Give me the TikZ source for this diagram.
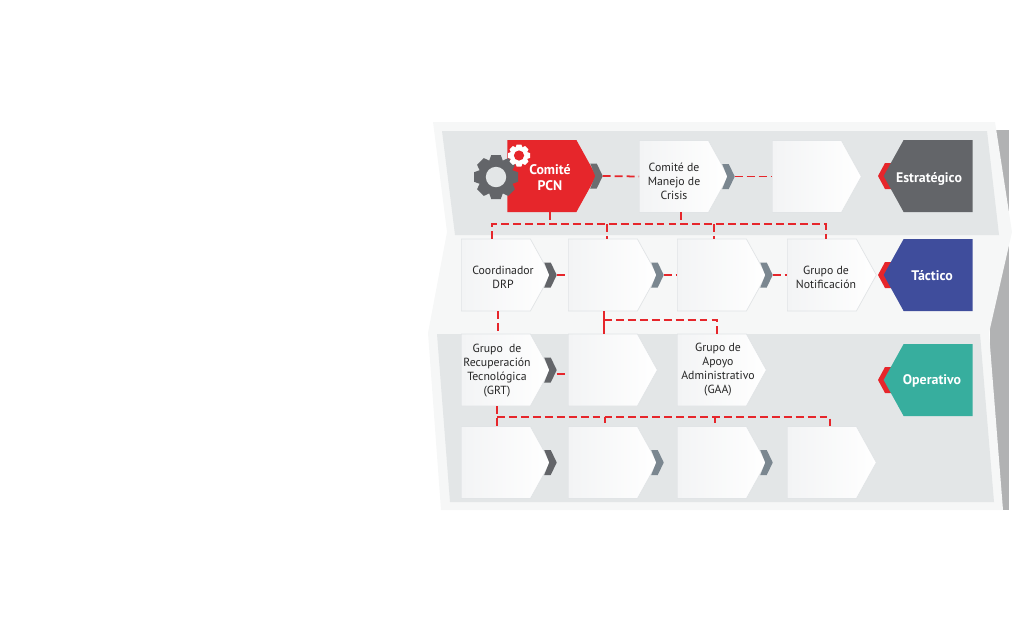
\documentclass[tikz,border=0pt]{standalone}
\usepackage{fontspec}
\setmainfont{PT Sans}
\usetikzlibrary{shapes.symbols,calc}
\definecolor{bandlight}{HTML}{F6F7F7}
\definecolor{panelgrey}{HTML}{E3E6E7}
\definecolor{shadowgrey}{HTML}{B1B2B3}
\definecolor{cardedge}{HTML}{E1E4E6}
\definecolor{cardleft}{HTML}{F3F4F5}
\definecolor{pcnred}{HTML}{E6262B}
\definecolor{darkgrey}{HTML}{636569}
\definecolor{tacblue}{HTML}{3F4D9C}
\definecolor{opgreen}{HTML}{37AE9E}
\definecolor{chevlight}{HTML}{7B8790}
\tikzset{
    signalbase/.style={shape=signal, signal pointer angle=122, signal from=nowhere, inner sep=0pt,
        minimum width=1.78cm, minimum height=1.44cm},
    card/.style={signalbase, signal to=east, anchor=west, draw=cardedge, line width=0.4pt,
        left color=cardleft, right color=white},
    pcnbox/.style={signalbase, signal to=east, anchor=west, fill=pcnred},
    levelbox/.style={signalbase, signal to=west, anchor=east},
    cardtext/.style={align=center, inner sep=0pt, text=black!85, font=\fontsize{6.7}{8}\selectfont},
    boldtext/.style={align=center, inner sep=0pt, text=white, font=\fontsize{7.9}{9}\selectfont\bfseries},
    link/.style={draw=pcnred, line width=1pt, dash pattern=on 4.5pt off 2.3pt},
    linksolid/.style={draw=pcnred, line width=1pt},
}
% chevron that sticks out of a card, measured from the tip of the card
\newcommand{\cardtab}[2]{\fill[#2] ($(#1.east)+(-6.5,-12.5)$) -- ++(6.5,0) -- ($(#1.east)+(6,0)$)
    -- ($(#1.east)+(0,12.5)$) -- ++(-6.5,0) -- ($(#1.east)+(-1.5,0)$) -- cycle;}
% red chevron behind a level box
\newcommand{\leveltab}[1]{\fill[pcnred] (#1) -- ++(7,-13) -- ++(14,0) -- ++(0,26) -- ++(-14,0) -- cycle;}
\newcommand{\cardgear}[5]{\foreach \a in {0,45,...,315}
    {\fill[#5, shift={(#1)}, rotate=\a] (-#3*0.44,#3*0.85) -- (-#3*0.28,#2) -- (#3*0.28,#2) -- (#3*0.44,#3*0.85) -- cycle;}
    \fill[#5] (#1) circle[radius=#3];
    \fill[#4] (#1) circle[radius=#3*0.6];}
\begin{document}
\begin{tikzpicture}[x=0.02cm, y=-0.02cm]
    \useasboundingbox (0,0) rectangle (1024,620);

    % bands behind the rows
    \fill[shadowgrey] (990,130) -- (1009,130) -- (1009,510) -- (990,510) -- cycle;
    \fill[bandlight] (433,122) -- (995,122) -- (1012,232) -- (989,333) -- (1003,510) -- (441,510) -- (428,333) -- (447,232) -- cycle;
    \fill[panelgrey] (442,131) -- (987,131) -- (999,235) -- (455,235) -- cycle;
    \fill[panelgrey] (437,334) -- (980,334) -- (994,502) -- (450,502) -- cycle;

    % row 1
    \node[pcnbox] (pcn) at (507,176) {};
    \node[card] (manejo) at (639,176.5) {};
    \node[card] (tercero) at (772,176.5) {};

    % row 2
    \node[card] (coord) at (461,275) {};
    \node[card] (tacdos) at (568,275) {};
    \node[card] (tactres) at (677,275) {};
    \node[card] (notif) at (787,275) {};

    % row 3
    \node[card] (grt) at (461,370) {};
    \node[card] (opdos) at (568,370) {};
    \node[card] (gaa) at (677,370) {};

    % row 4
    \node[card] (baja) at (461,462.5) {};
    \node[card] (bajb) at (568,462.5) {};
    \node[card] (bajc) at (677,462.5) {};
    \node[card] (bajd) at (787,462.5) {};

    % levels on the right
    \leveltab{878,176}
    \leveltab{878,275}
    \leveltab{878,380}
    \node[levelbox, fill=darkgrey] (estrategico) at (973,176) {};
    \node[levelbox, fill=tacblue] (tactico) at (973,275) {};
    \node[levelbox, fill=opgreen] (operativo) at (973,380) {};
    \node[boldtext] (estrategicotxt) at (929,179) {Estratégico};
    \node[boldtext] (tacticotxt) at (932,276) {Táctico};
    \node[boldtext] (operativotxt) at (932,381) {Operativo};

    % chevrons
    \cardtab{pcn}{darkgrey!95}
    \cardtab{manejo}{chevlight}
    \cardtab{coord}{darkgrey}
    \cardtab{tacdos}{chevlight}
    \cardtab{tactres}{chevlight}
    \cardtab{grt}{darkgrey}
    \cardtab{baja}{darkgrey}
    \cardtab{bajb}{chevlight}
    \cardtab{bajc}{chevlight}

    % texts of the cards
    \node[cardtext] (manejotxt) at (674,181) {Comité de\\Manejo de\\Crisis};
    \node[cardtext] (coordtxt) at (503,277) {Coordinador\\DRP};
    \node[cardtext] (notiftxt) at (826,277) {Grupo de\\Notificación};
    \node[cardtext] (grttxt) at (497,371) {Grupo \ de\\Recuperación\\Tecnológica\\(GRT)};
    \node[cardtext] (gaatxt) at (718,370) {Grupo de\\Apoyo\\Administrativo\\(GAA)};
    \node[boldtext] (pcntxt) at (550,177.5) {Comité\\PCN};

    % gears
    \cardgear{496,177}{22}{17}{panelgrey}{darkgrey}
    \cardgear{519,155.5}{11}{8.5}{pcnred}{white}

    % row 1 connectors
    \draw[link] ($(pcn.east)+(6,0)$) -- (manejo.west);
    \draw[link] ($(manejo.east)+(6,0)$) -- (tercero.west);
    \coordinate (busleft) at (492,224);
    \coordinate (busright) at (826,224);
    \coordinate (busb) at (607,224);
    \coordinate (busc) at (714,224);
    \draw[link] (busleft |- coord.north) -- (busleft) -- (busright) -- (busright |- notif.north);
    \draw[link] (550,212) -- (550,224);
    \draw[link] (681,212) -- (681,224);
    \draw[link] (busb) -- (busb |- tacdos.north);
    \draw[link] (busc) -- (busc |- tactres.north);

    % row 2 connectors
    \draw[link] ($(coord.east)+(6,0)$) -- (tacdos.west);
    \draw[link] ($(tacdos.east)+(6,0)$) -- (tactres.west);
    \draw[link] ($(tactres.east)+(6,0)$) -- (notif.west);
    \draw[link] (498,311) -- (498,334);
    \draw[linksolid] (604,311) -- (604,334);
    \draw[link] (604,320) -- (717,320) -- (717,334);

    % row 3 connectors
    \draw[link] ($(grt.east)+(6,4)$) -- ($(opdos.west)+(0,4)$);
    \coordinate (lowleft) at (497,417);
    \coordinate (lowright) at (830,417);
    \draw[link] (lowleft) -- (lowright) -- (lowright |- bajd.north);
    \draw[link] (497,406) -- (497,427);
    \draw[link] (605,417) -- (605,423);
    \draw[link] (715,417) -- (715,423);
\end{tikzpicture}
\end{document}
